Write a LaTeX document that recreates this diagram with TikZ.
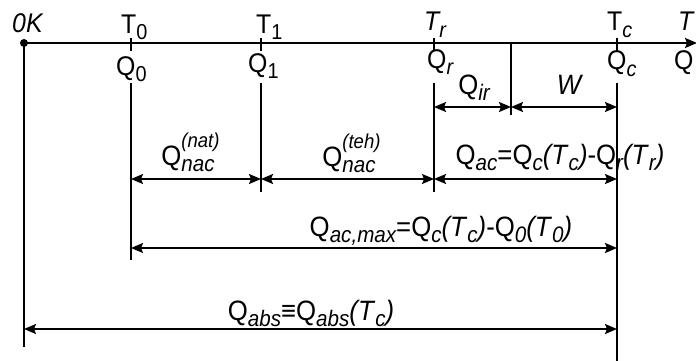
\documentclass[tikz,border=0pt]{standalone}
\usepackage{fontspec}
\setmainfont[FakeStretch=0.92]{Liberation Sans}
\usetikzlibrary{arrows.meta}
\newcommand{\Sb}[1]{\raisebox{-0.24em}{\scalebox{0.8}{\itshape #1}}}
\newcommand{\Su}[1]{\raisebox{0.62em}{\scalebox{0.72}{\itshape #1}}}
\newcommand{\SuSb}[2]{\makebox[0pt][l]{\Su{#2}}\Sb{#1}}
\newcommand{\Sn}[1]{\raisebox{-0.2em}{\scalebox{0.8}{#1}}}
\begin{document}
\begin{tikzpicture}[x=1pt,y=-1pt,
  lbl/.style={inner sep=0pt, font=\fontsize{28}{32}\selectfont},
  toplbl/.style={inner sep=0pt, anchor=base west, font=\fontsize{27}{31}\selectfont},
  axisline/.style={line width=2pt},
  vline/.style={line width=1.8pt},
  tick/.style={line width=1.8pt},
  dim/.style={line width=1.8pt, {Stealth[length=12pt,width=10pt,inset=2pt]}-{Stealth[length=12pt,width=10pt,inset=2pt]}}
]
\useasboundingbox (0,0) rectangle (696,361);
% axis
\coordinate (o) at (24,43);
\coordinate (tend) at (697,43);
\draw[axisline,-{Stealth[length=12pt,width=10pt,inset=2pt]}] (o) -- (tend);
\fill (o) circle (4);
% ticks
\foreach \n/\x in {t0/131,t1/261,tr/434,tc/617}{
  \coordinate (\n a) at (\x,38);
  \coordinate (\n b) at (\x,51);
  \draw[tick] (\n a) -- (\n b);
}
% vertical lines
\coordinate (k1) at (24,347);
\coordinate (a0) at (131,83);  \coordinate (b0) at (131,260);
\coordinate (a1) at (261,83);  \coordinate (b1) at (261,192);
\coordinate (ar) at (434,83);  \coordinate (br) at (434,192);
\coordinate (am) at (511,43);  \coordinate (bm) at (511,115);
\coordinate (ac) at (617,83);  \coordinate (bc) at (617,362);
\draw[vline] (o) -- (k1);
\draw[vline] (a0) -- (b0);
\draw[vline] (a1) -- (b1);
\draw[vline] (ar) -- (br);
\draw[vline] (am) -- (bm);
\draw[vline] (ac) -- (bc);
% dimension arrows
\coordinate (ir1) at (434,107); \coordinate (ir2) at (511,107); \coordinate (ir3) at (617,107);
\coordinate (n0) at (131,179); \coordinate (n1) at (261,179); \coordinate (nr) at (434,179); \coordinate (nc) at (617,179);
\coordinate (m0) at (131,248); \coordinate (mc) at (617,248);
\coordinate (s0) at (24,329); \coordinate (sc) at (617,329);
\draw[dim] (ir1) -- (ir2);
\draw[dim] (ir2) -- (ir3);
\draw[dim] (n0) -- (n1);
\draw[dim] (n1) -- (nr);
\draw[dim] (nr) -- (nc);
\draw[dim] (m0) -- (mc);
\draw[dim] (s0) -- (sc);
% top labels
\node[toplbl] (lk) at (12,33) {\itshape 0K};
\node[toplbl] (lt0) at (121,34) {T\Sn{0}};
\node[toplbl] (lt1) at (256,34) {T\Sn{1}};
\node[toplbl] (ltr) at (424,31) {\itshape T\Sb{r}};
\node[toplbl] (ltc) at (607,31) {T\Sb{c}};
\node[toplbl] (lt) at (678,31) {\itshape T};
% Q labels below axis
\node[toplbl] (lq0) at (116,76) {Q\Sn{0}};
\node[toplbl] (lq1) at (248,73) {Q\Sn{1}};
\node[toplbl] (lqr) at (427,68) {Q\Sb{r}};
\node[toplbl] (lqc) at (607,70) {Q\Sb{c}};
\node[toplbl] (lq) at (674,70) {Q};
% dimension labels
\node[lbl,anchor=base] (lqir) at (474,94) {Q\Sb{ir}};
\node[lbl,anchor=base] (lw) at (569,94) {\itshape W};
\node[lbl,anchor=base] (lnat) at (188,165) {Q\SuSb{nac}{(nat)}};
\node[lbl,anchor=base] (lteh) at (349,166) {Q\SuSb{nac}{(teh)}};
\node[lbl,anchor=base] (lac) at (560,164) {Q\Sb{ac}=Q\Sb{c}\textit{(T}\Sb{c}\textit{)}-Q\Sb{r}\textit{(T}\Sb{r}\textit{)}};
\node[lbl,anchor=base] (lmax) at (441,236) {Q\Sb{ac,max}=Q\Sb{c}\textit{(T}\Sb{c}\textit{)}-Q\Sb{0}\textit{(T}\Sb{0}\textit{)}};
\node[lbl,anchor=base] (labs) at (311,320) {Q\Sb{abs}≡Q\Sb{abs}\textit{(T}\Sb{c}\textit{)}};
\end{tikzpicture}
\end{document}
